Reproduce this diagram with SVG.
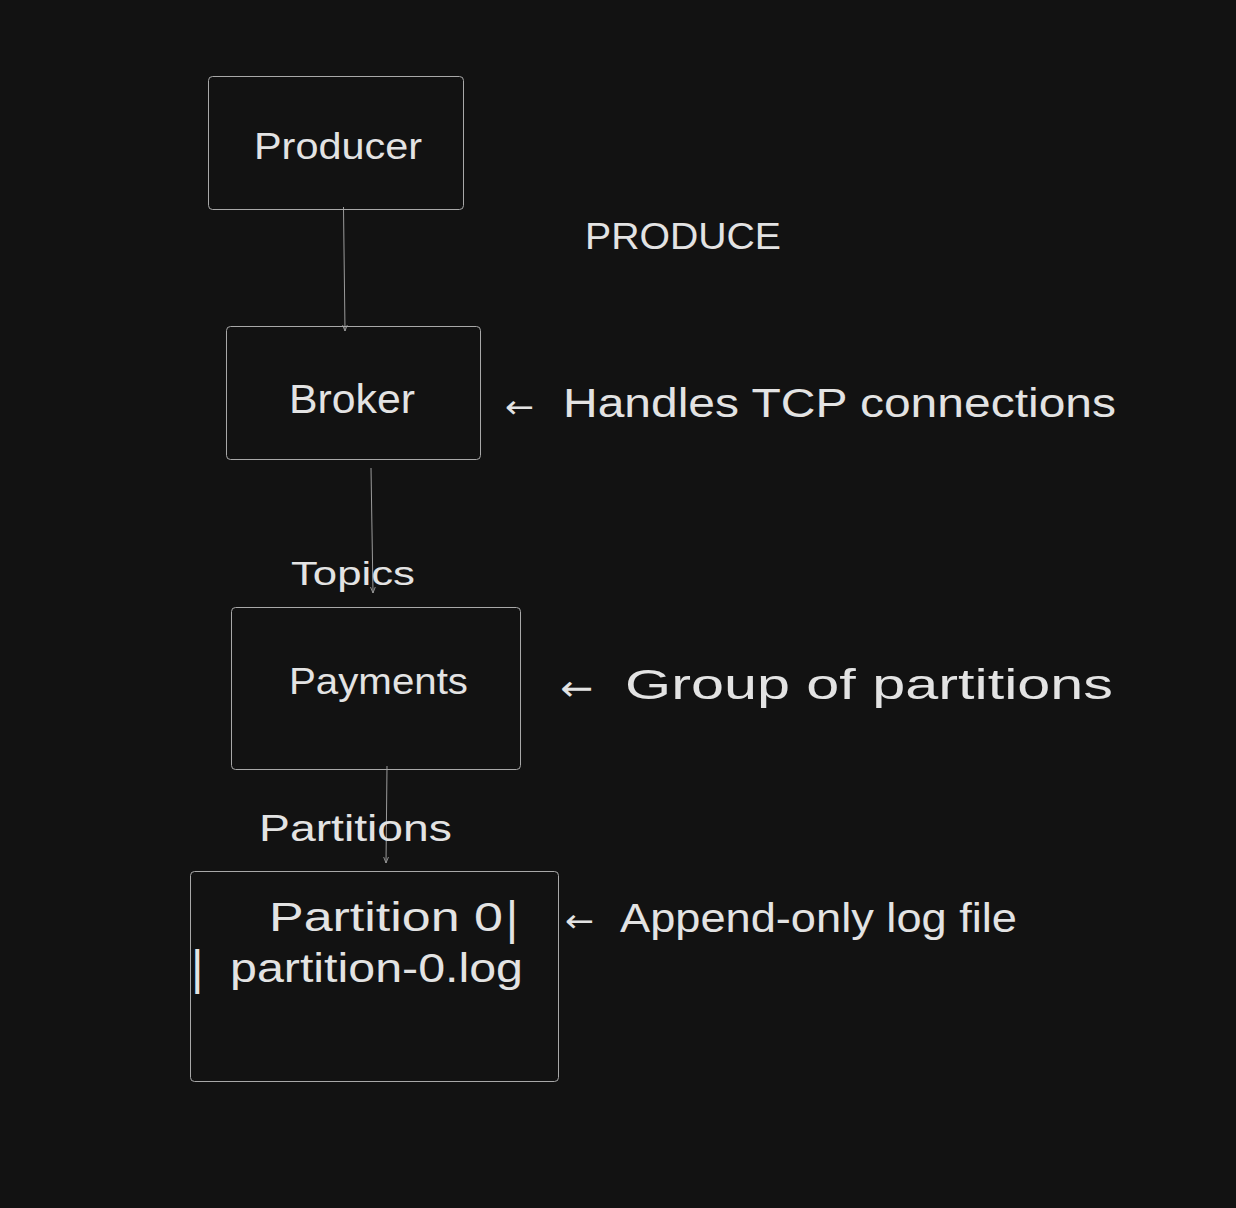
<svg xmlns="http://www.w3.org/2000/svg" width="1236" height="1208" viewBox="0 0 1236 1208">
  <style>
    .bg { fill: #121212; }
    .box { fill: none; stroke: #a8a8a8; stroke-width: 1; }
    .lbl { fill: #e3e3e3; font-family: "Liberation Sans", "DejaVu Sans", sans-serif; }
    .arr { fill: #e3e3e3; font-family: "DejaVu Sans", sans-serif; }
    .conn { stroke: #9a9a9a; stroke-width: 1; fill: none; }
  </style>
  <defs>
    <marker id="head" viewBox="0 0 10 10" refX="10" refY="5" markerWidth="6" markerHeight="6" orient="auto" markerUnits="userSpaceOnUse">
      <path d="M0,1 L10,5 L0,9" fill="none" stroke="#9a9a9a" stroke-width="1.5"/>
    </marker>
  </defs>
  <rect class="bg" x="0" y="0" width="1236" height="1208"/>

  <g id="connectors">
    <line class="conn" x1="343.5" y1="207" x2="345" y2="331" marker-end="url(#head)"/>
    <line class="conn" x1="371" y1="468" x2="373" y2="593" marker-end="url(#head)"/>
    <line class="conn" x1="387" y1="766" x2="386" y2="863" marker-end="url(#head)"/>
  </g>

  <g id="producer">
    <rect class="box" x="208.5" y="76.5" width="255" height="133" rx="4"/>
    <text class="lbl" x="254" y="159" font-size="37" textLength="168" lengthAdjust="spacingAndGlyphs">Producer</text>
  </g>

  <g id="produce-label">
    <text class="lbl" x="585" y="249" font-size="36" textLength="196" lengthAdjust="spacingAndGlyphs">PRODUCE</text>
  </g>

  <g id="broker">
    <rect class="box" x="226.5" y="326.5" width="254" height="133" rx="4"/>
    <text class="lbl" x="289" y="413" font-size="40" textLength="126" lengthAdjust="spacingAndGlyphs">Broker</text>
  </g>

  <g id="broker-note">
    <text class="arr" x="505" y="418" font-size="32" textLength="29" lengthAdjust="spacingAndGlyphs">←</text>
    <text class="lbl" x="563" y="417" font-size="40" textLength="553" lengthAdjust="spacingAndGlyphs">Handles TCP connections</text>
  </g>

  <g id="topics-label">
    <text class="lbl" x="291" y="585" font-size="33" textLength="124" lengthAdjust="spacingAndGlyphs">Topics</text>
  </g>

  <g id="payments">
    <rect class="box" x="231.5" y="607.5" width="289" height="162" rx="4"/>
    <text class="lbl" x="289" y="694" font-size="37" textLength="179" lengthAdjust="spacingAndGlyphs">Payments</text>
  </g>

  <g id="payments-note">
    <text class="arr" x="560" y="700" font-size="35" textLength="33" lengthAdjust="spacingAndGlyphs">←</text>
    <text class="lbl" x="625" y="699" font-size="42" textLength="488" lengthAdjust="spacingAndGlyphs">Group of partitions</text>
  </g>

  <g id="partitions-label">
    <text class="lbl" x="259" y="841" font-size="37" textLength="193" lengthAdjust="spacingAndGlyphs">Partitions</text>
  </g>

  <g id="partition0">
    <rect class="box" x="190.5" y="871.5" width="368" height="210" rx="4"/>
    <text class="lbl" x="269" y="931" font-size="40" textLength="234" lengthAdjust="spacingAndGlyphs">Partition 0</text>
    <text class="lbl" x="506" y="934" font-size="46">|</text>
    <text class="lbl" x="191" y="984" font-size="48">|</text>
    <text class="lbl" x="230" y="982" font-size="40" textLength="293" lengthAdjust="spacingAndGlyphs">partition-0.log</text>
  </g>

  <g id="partition-note">
    <text class="arr" x="565" y="932" font-size="32" textLength="29" lengthAdjust="spacingAndGlyphs">←</text>
    <text class="lbl" x="620" y="932" font-size="40" textLength="397" lengthAdjust="spacingAndGlyphs">Append-only log file</text>
  </g>
</svg>
